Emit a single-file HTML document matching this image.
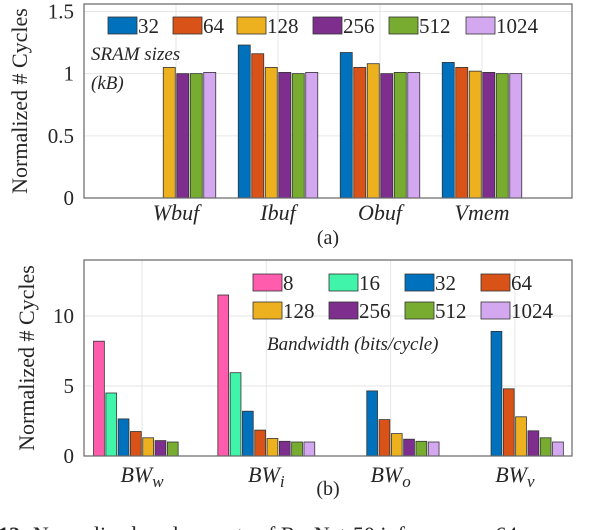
<!DOCTYPE html>
<html><head><meta charset="utf-8"><style>
body{margin:0;background:#fff;width:600px;height:530px;overflow:hidden}
svg{display:block}
text{font-family:"Liberation Serif",serif;fill:#262626}
.it{font-style:italic}
</style></head><body>
<svg id="chart" width="600" height="530" viewBox="0 0 600 530" xmlns="http://www.w3.org/2000/svg">
<g id="a"></g>
<g id="b"></g>
<text x="-2" y="542" font-size="22"><tspan font-weight="bold">12:</tspan> Normalized cycle counts of ResNet-50 inference on 64</text>
</svg>
<script>
const catsA=["Wbuf","Ibuf","Obuf","Vmem"];
const seriesA=["32","64","128","256","512","1024"];
const valsA=[[0,0,1.05,1.0,1.0,1.01],[1.23,1.16,1.05,1.01,1.0,1.01],[1.17,1.05,1.08,1.0,1.01,1.01],[1.09,1.05,1.02,1.01,1.0,1.0]];
const ticksA=[0,0.5,1,1.5];
const tickLabelsA=["0","0.5","1","1.5"];
const catsB=["BW|w","BW|i","BW|o","BW|v"];
const seriesB=["8","16","32","64","128","256","512","1024"];
const valsB=[[8.2,4.5,2.65,1.75,1.3,1.1,1.0,0],[11.5,5.95,3.2,1.85,1.25,1.05,1.0,1.0],[0,0,4.65,2.6,1.6,1.2,1.05,1.0],[0,0,8.9,4.8,2.8,1.8,1.3,1.0]];
const ticksB=[0,5,10];
const tickLabelsB=["0","5","10"];
const colA=["#0072BD","#D95319","#EDB120","#7E2F8E","#77AC30","#D4A8F0"];
const colB=["#FF5CAD","#40F5AA","#0072BD","#D95319","#EDB120","#7E2F8E","#77AC30","#D4A8F0"];
const NS="http://www.w3.org/2000/svg";
function mk(p,t,a){const e=document.createElementNS(NS,t);for(const k in a)e.setAttribute(k,a[k]);p.appendChild(e);return e;}

function draw(g,cfg){
  const {L,R,T,B,ymax,c0,cstep,bw,bstep,cats,vals,cols,ticks,tlabels}=cfg;
  const y=v=>B-(v/ymax)*(B-T);
  const xc=i=>c0+i*cstep;
  mk(g,'rect',{x:L,y:T,width:R-L,height:B-T,fill:'#fff'});
  ticks.forEach((t,i)=>{
    if(t>0){const l=mk(g,'line',{x1:L,x2:R,y1:y(t),y2:y(t),stroke:'#e6e6e6','stroke-width':1});
    }
    const tx=mk(g,'text',{x:L-10,y:y(t)+7,'text-anchor':'end','font-size':21});tx.textContent=tlabels[i];
    
  });
  cats.forEach((c,i)=>{
    const l=mk(g,'line',{x1:xc(i),x2:xc(i),y1:T,y2:B,stroke:'#e6e6e6','stroke-width':1});
    
  });
  vals.forEach((row,i)=>{
    const n=row.length, start=xc(i)-n*bstep/2;
    row.forEach((v,j)=>{
      const x=start+j*bstep+(bstep-bw)/2;
      const r=mk(g,'rect',{x:x,y:y(v),width:bw,height:Math.max(0,B-y(v)),fill:cols[j],stroke:'#333','stroke-width':0.8});
      
      
    });
  });
  const bx=mk(g,'rect',{x:L,y:T,width:R-L,height:B-T,fill:'none',stroke:'#666','stroke-width':1.2});
  
  cats.forEach((c,i)=>{
    const tx=mk(g,'text',{x:xc(i),y:cfg.xly,'text-anchor':'middle','font-size':22,'class':'it'});
    const p=c.split('|');tx.textContent=p[0];
    if(p[1]){const s=mk(tx,'tspan',{'font-size':17,dy:5});s.textContent=p[1];}
    
  });
  const yl=mk(g,'text',{x:0,y:0,'text-anchor':'middle','font-size':22,transform:`translate(${cfg.ylx},${(T+B)/2}) rotate(-90)`});
  yl.textContent='Normalized # Cycles';
  
}
function legend(g,names,cols,pos){
  names.forEach((n,i)=>{
    const [x,yy]=pos(i);
    const it=mk(g,'g',{});
    
    mk(it,'rect',{x:x,y:yy,width:29,height:17,fill:cols[i],stroke:'#333','stroke-width':0.8});
    const t=mk(it,'text',{x:x+30,y:yy+16,'font-size':21});t.textContent=n;
  });
}
const ga=document.getElementById('a'),gb=document.getElementById('b');
draw(ga,{L:84,R:572,T:4,B:198,ymax:1.56,c0:176,cstep:102,bw:12,bstep:13.5,cats:catsA,vals:valsA,cols:colA,ticks:ticksA,tlabels:tickLabelsA,xly:220,ylx:27});
const lxA=[108,173,237,313,389,466];
legend(ga,seriesA,colA,i=>[lxA[i],17]);
let t=mk(ga,'text',{x:91,y:60,'font-size':19,'class':'it'});t.textContent='SRAM sizes';

t=mk(ga,'text',{x:91,y:89,'font-size':19,'class':'it'});t.textContent='(kB)';

t=mk(ga,'text',{x:328,y:244,'font-size':20,'text-anchor':'middle'});t.textContent='(a)';


draw(gb,{L:84,R:572,T:260,B:456,ymax:14,c0:142,cstep:124.3,bw:10.8,bstep:12.3,cats:catsB,vals:valsB,cols:colB,ticks:ticksB,tlabels:tickLabelsB,xly:482,ylx:34});
const lxB=[253,329,405,481];
legend(gb,seriesB,colB,i=>[lxB[i%4],i<4?274:302]);
t=mk(gb,'text',{x:267,y:350,'font-size':19,'class':'it'});t.textContent='Bandwidth (bits/cycle)';

t=mk(gb,'text',{x:328,y:495,'font-size':20,'text-anchor':'middle'});t.textContent='(b)';

</script>
</body></html>
